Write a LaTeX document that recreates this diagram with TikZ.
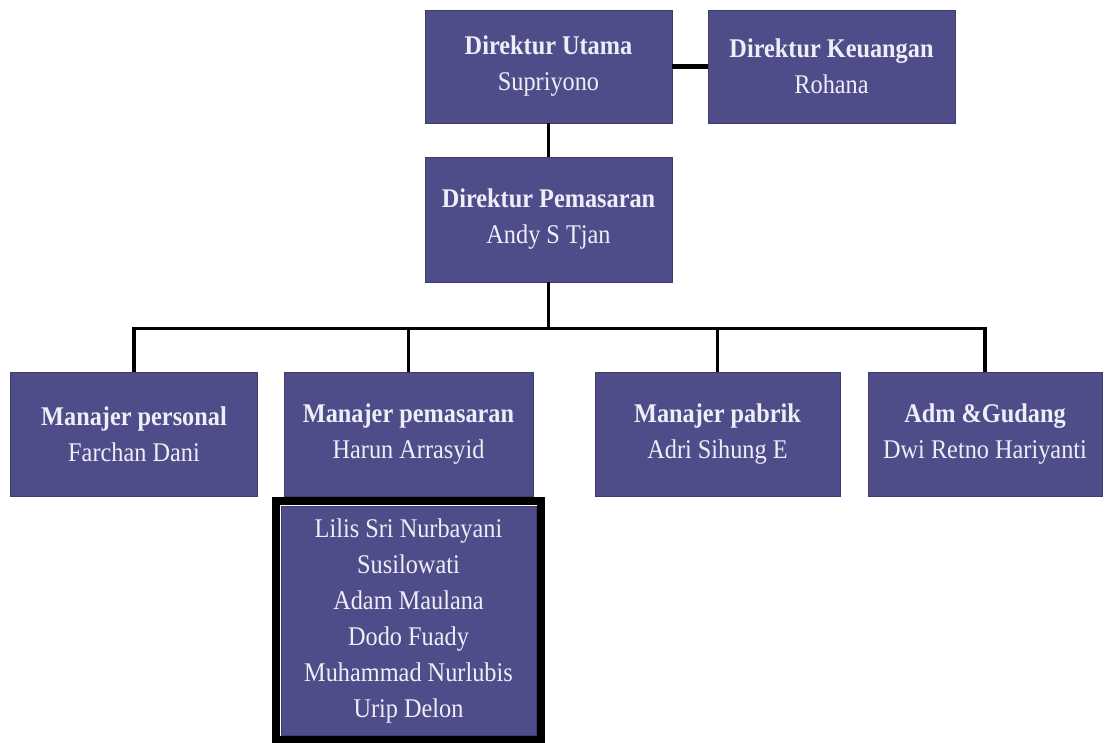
\documentclass[tikz,border=0pt]{standalone}
\usepackage{fontspec}
\setmainfont{Liberation Serif}[FakeStretch=0.9]
\usetikzlibrary{positioning,fit}
\definecolor{postFill}{HTML}{4F4D89}
\definecolor{postEdge}{HTML}{3E3D6E}
\definecolor{postText}{HTML}{EEEEF8}
\tikzset{
  font=\fontsize{27}{36}\selectfont,
  link/.style={draw=black,line width=3.5pt},
  post/.style={rectangle,draw=postEdge,line width=0.8pt,fill=postFill,text=postText,
    minimum width=247pt,minimum height=124pt,align=center,inner sep=2pt},
  staffframe/.style={rectangle,draw=black,line width=8pt,inner sep=4.5pt},
}

\begin{document}
\begin{tikzpicture}[x=1pt,y=-1pt]

\useasboundingbox (0,0) rectangle (1105,742);

\node[post,minimum height=113pt] (utama)    at (548.5,66.5) {\textbf{Direktur Utama}\\Supriyono};
\node[post,minimum height=113pt] (keuangan) at (831.5,66.5) {\textbf{Direktur Keuangan}\\Rohana};

\draw[link,line width=5pt] (utama.east) -- (keuangan.west);

\node[post,minimum height=125pt] (dirpemasaran) at (548.5,219.5) {\textbf{Direktur Pemasaran}\\Andy S Tjan};

\draw[link] (utama.south) -- (dirpemasaran.north);

\node[post]                     (personal)   at (134,434)   {\textbf{Manajer personal}\\Farchan Dani};
\node[post,minimum width=249pt] (mpemasaran) at (408.5,434) {\textbf{Manajer pemasaran}\\Harun Arrasyid};
\node[post,minimum width=245pt] (pabrik)     at (717.5,434) {\textbf{Manajer pabrik}\\Adri Sihung E};
\node[post,minimum width=234pt] (adm)        at (985,434)   {\textbf{Adm \&Gudang}\\Dwi Retno Hariyanti};

\coordinate[below=46pt of dirpemasaran.south] (bus);

\draw[link] (dirpemasaran.south) -- (bus);
\draw[link] (personal.north) |- (bus) -| (adm.north);
\draw[link] (mpemasaran.north) -- (mpemasaran.north |- bus);
\draw[link] (pabrik.north) -- (pabrik.north |- bus);

\node[post,minimum width=255pt,minimum height=229pt] (staff) at (408.5,620.5)
  {Lilis Sri Nurbayani\\Susilowati\\Adam Maulana\\Dodo Fuady\\Muhammad Nurlubis\\Urip Delon};
\node[staffframe,fit=(staff)] (staffbox) {};

\end{tikzpicture}
\end{document}
